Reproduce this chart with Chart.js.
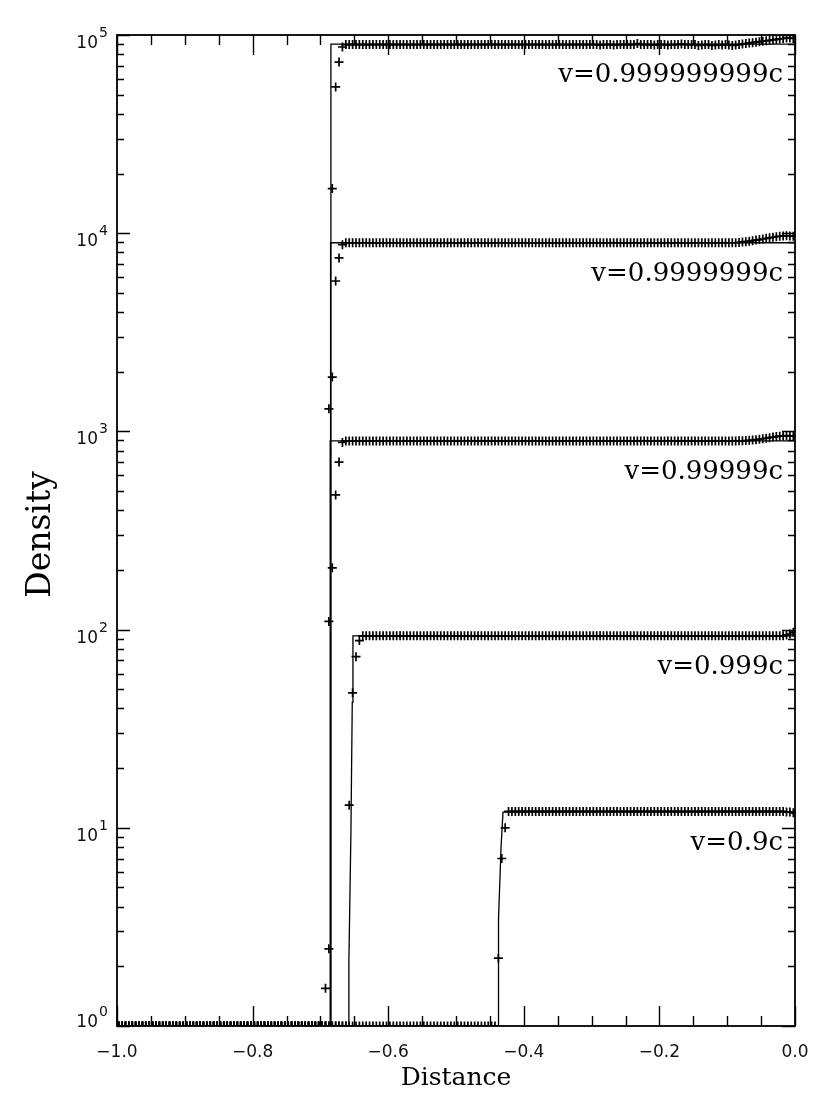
<!DOCTYPE html>
<html lang="en">
<head>
<meta charset="utf-8">
<title>Density vs distance</title>
<script src="https://cdn.jsdelivr.net/npm/chart.js@4.4.0/dist/chart.umd.min.js"></script>
<style>
  html, body { margin: 0; padding: 0; background: #fff; }
</style>
</head>
<body>
<canvas id="myChart" width="830" height="1105"></canvas>
<script>
// cell centres of the numerical grid (Distance)
const cellX = [
  -0.9975,-0.9925,-0.9875,-0.9825,-0.9775,-0.9725,-0.9675,-0.9625,-0.9575,-0.9525,
  -0.9475,-0.9425,-0.9375,-0.9325,-0.9275,-0.9225,-0.9175,-0.9125,-0.9075,-0.9025,
  -0.8975,-0.8925,-0.8875,-0.8825,-0.8775,-0.8725,-0.8675,-0.8625,-0.8575,-0.8525,
  -0.8475,-0.8425,-0.8375,-0.8325,-0.8275,-0.8225,-0.8175,-0.8125,-0.8075,-0.8025,
  -0.7975,-0.7925,-0.7875,-0.7825,-0.7775,-0.7725,-0.7675,-0.7625,-0.7575,-0.7525,
  -0.7475,-0.7425,-0.7375,-0.7325,-0.7275,-0.7225,-0.7175,-0.7125,-0.7075,-0.7025,
  -0.6975,-0.6925,-0.6875,-0.6825,-0.6775,-0.6725,-0.6675,-0.6625,-0.6575,-0.6525,
  -0.6475,-0.6425,-0.6375,-0.6325,-0.6275,-0.6225,-0.6175,-0.6125,-0.6075,-0.6025,
  -0.5975,-0.5925,-0.5875,-0.5825,-0.5775,-0.5725,-0.5675,-0.5625,-0.5575,-0.5525,
  -0.5475,-0.5425,-0.5375,-0.5325,-0.5275,-0.5225,-0.5175,-0.5125,-0.5075,-0.5025,
  -0.4975,-0.4925,-0.4875,-0.4825,-0.4775,-0.4725,-0.4675,-0.4625,-0.4575,-0.4525,
  -0.4475,-0.4425,-0.4375,-0.4325,-0.4275,-0.4225,-0.4175,-0.4125,-0.4075,-0.4025,
  -0.3975,-0.3925,-0.3875,-0.3825,-0.3775,-0.3725,-0.3675,-0.3625,-0.3575,-0.3525,
  -0.3475,-0.3425,-0.3375,-0.3325,-0.3275,-0.3225,-0.3175,-0.3125,-0.3075,-0.3025,
  -0.2975,-0.2925,-0.2875,-0.2825,-0.2775,-0.2725,-0.2675,-0.2625,-0.2575,-0.2525,
  -0.2475,-0.2425,-0.2375,-0.2325,-0.2275,-0.2225,-0.2175,-0.2125,-0.2075,-0.2025,
  -0.1975,-0.1925,-0.1875,-0.1825,-0.1775,-0.1725,-0.1675,-0.1625,-0.1575,-0.1525,
  -0.1475,-0.1425,-0.1375,-0.1325,-0.1275,-0.1225,-0.1175,-0.1125,-0.1075,-0.1025,
  -0.0975,-0.0925,-0.0875,-0.0825,-0.0775,-0.0725,-0.0675,-0.0625,-0.0575,-0.0525,
  -0.0475,-0.0425,-0.0375,-0.0325,-0.0275,-0.0225,-0.0175,-0.0125,-0.0075,-0.0025
];

// numerical densities (+ markers), one value per cell
const dens09 = [
  1,1,1,1,1,1,1,1,1,1, 1,1,1,1,1,1,1,1,1,1, 1,1,1,1,1,1,1,1,1,1, 1,1,1,1,1,1,1,1,1,1,
  1,1,1,1,1,1,1,1,1,1, 1,1,1,1,1,1,1,1,1,1, 1,1,1,1,1,1,1,1,1,1, 1,1,1,1,1,1,1,1,1,1,
  1,1,1,1,1,1,1,1,1,1, 1,1,1,1,1,1,1,1,1,1, 1,1,1,1,1,1,1,1,1,1,
  1,1,2.2,7,10,12.1,12.1,12.1,12.1,12.1,
  12.1,12.1,12.1,12.1,12.1,12.1,12.1,12.1,12.1,12.1,
  12.1,12.1,12.1,12.1,12.1,12.1,12.1,12.1,12.1,12.1,
  12.1,12.1,12.1,12.1,12.1,12.1,12.1,12.1,12.1,12.1,
  12.1,12.1,12.1,12.1,12.1,12.1,12.1,12.1,12.1,12.1,
  12.1,12.1,12.1,12.1,12.1,12.1,12.1,12.1,12.1,12.1,
  12.1,12.1,12.1,12.1,12.1,12.1,12.1,12.1,12.1,12.1,
  12.1,12.1,12.1,12.1,12.1,12.1,12.1,12.1,12.1,12.1,
  12.1,12.1,12.1,12.1,12.1,12.1,12.1,12.0,12.0,11.9
];
const dens0999 = [
  1,1,1,1,1,1,1,1,1,1, 1,1,1,1,1,1,1,1,1,1, 1,1,1,1,1,1,1,1,1,1,
  1,1,1,1,1,1,1,1,1,1, 1,1,1,1,1,1,1,1,1,1, 1,1,1,1,1,1,1,1,1,1,
  1,1,1,1,1,1,1,1,13,48,
  73,88,93,93,93,93,93,93,93,93,
  93,93,93,93,93,93,93,93,93,93, 93,93,93,93,93,93,93,93,93,93,
  93,93,93,93,93,93,93,93,93,93, 93,93,93,93,93,93,93,93,93,93,
  93,93,93,93,93,93,93,93,93,93, 93,93,93,93,93,93,93,93,93,93,
  93,93,93,93,93,93,93,93,93,93, 93,93,93,93,93,93,93,93,93,93,
  93,93,93,93,93,93,93,93,93,93, 93,93,93,93,93,93,93,93,93,93,
  93,93,93,93,93,93,93,93,93,93,
  93,93,93,93,93,93,93,94,95,97
];
const dens99999 = [
  1,1,1,1,1,1,1,1,1,1, 1,1,1,1,1,1,1,1,1,1, 1,1,1,1,1,1,1,1,1,1,
  1,1,1,1,1,1,1,1,1,1, 1,1,1,1,1,1,1,1,1,1, 1,1,1,1,1,1,1,1,1,1,
  1,1,2.45,205,478,700,880,895,895,895,
  895,895,895,895,895,895,895,895,895,895, 895,895,895,895,895,895,895,895,895,895,
  895,895,895,895,895,895,895,895,895,895, 895,895,895,895,895,895,895,895,895,895,
  895,895,895,895,895,895,895,895,895,895, 895,895,895,895,895,895,895,895,895,895,
  895,895,895,895,895,895,895,895,895,895, 895,895,895,895,895,895,895,895,895,895,
  895,895,895,895,895,895,895,895,895,895, 895,895,895,895,895,895,895,895,895,895,
  895,895,895,895,895,895,895,895,895,895,
  895,895,895,896,897,899,901,904,908,913,
  918,924,930,936,942,946,949,951,950,948
];
const dens9999999 = [
  1,1,1,1,1,1,1,1,1,1, 1,1,1,1,1,1,1,1,1,1, 1,1,1,1,1,1,1,1,1,1,
  1,1,1,1,1,1,1,1,1,1, 1,1,1,1,1,1,1,1,1,1, 1,1,1,1,1,1,1,1,1,1,
  1,1.55,110,1880,5740,7500,8750,8950,8950,8950,
  8950,8950,8950,8950,8950,8950,8950,8950,8950,8950, 8950,8950,8950,8950,8950,8950,8950,8950,8950,8950,
  8950,8950,8950,8950,8950,8950,8950,8950,8950,8950, 8950,8950,8950,8950,8950,8950,8950,8950,8950,8950,
  8950,8950,8950,8950,8950,8950,8950,8950,8950,8950, 8950,8950,8950,8950,8950,8950,8950,8950,8950,8950,
  8950,8950,8950,8950,8950,8950,8950,8950,8950,8950, 8950,8950,8950,8950,8950,8950,8950,8950,8950,8950,
  8950,8950,8950,8950,8950,8950,8950,8950,8950,8950, 8950,8950,8950,8950,8950,8950,8950,8950,8950,8950,
  8950,8950,8950,8950,8950,8950,8950,8950,8950,8950,
  8950,8950,8950,8980,9020,9060,9110,9170,9230,9290,
  9350,9420,9480,9540,9600,9650,9690,9700,9680,9650
];
const dens999999999 = [
  1,1,1,1,1,1,1,1,1,1, 1,1,1,1,1,1,1,1,1,1, 1,1,1,1,1,1,1,1,1,1,
  1,1,1,1,1,1,1,1,1,1, 1,1,1,1,1,1,1,1,1,1, 1,1,1,1,1,1,1,1,1,1,
  1,1,1300,16800,54700,73000,87000,89500,89500,89500,
  89500,89500,89500,89500,89500,89500,89500,89500,89500,89500,
  89500,89500,89500,89500,89500,89500,89500,89500,89500,89500,
  89500,89500,89500,89500,89500,89500,89500,89500,89500,89500,
  89500,89500,89500,89500,89500,89500,89500,89500,89500,89500,
  89500,89500,89500,89500,89500,89500,89500,89500,89500,89500,
  89500,89500,89500,89500,89500,89500,89500,89500,89500,89500,
  89500,89500,89500,89500,89500,89500,89500,89500,89500,89500,
  89500,89500,89000,89500,89500,89500,89000,89500,89500,89500,
  89500,89500,89500,90500,89500,89500,89500,89500,89000,89500,
  89500,89500,89000,89500,89500,89500,90000,89500,89500,89500,
  89500,88500,89000,89500,89500,88500,89000,89500,89000,89500,
  89000,88500,89000,89500,90000,90500,91000,91500,92000,92500,
  93000,93500,94000,94500,95000,95500,96000,96500,96500,96000
];

// exact solutions (solid lines)
const exactX09 = [-1, -0.438, -0.438, -0.4366, -0.4336, -0.4307, 0];
const exactY09 = [1, 1, 1.48, 3.47, 7.91, 12, 12];
const exactX0999 = [-1, -0.658, -0.658, -0.655, -0.653, -0.652, 0];
const exactY0999 = [1, 1, 2.1, 9.4, 43, 93, 93];
const exactX99999 = [-1, -0.6855, -0.6855, 0];
const exactY99999 = [1, 1, 895, 895];
const exactX9999999 = [-1, -0.685, -0.685, 0];
const exactY9999999 = [1, 1, 8950, 8950];
const exactX999999999 = [-1, -0.6845, -0.6845, 0];
const exactY999999999 = [1, 1, 90000, 90000];

const seriesLabels = ['v=0.9c', 'v=0.999c', 'v=0.99999c', 'v=0.9999999c', 'v=0.999999999c'];

const xTickValues = [-1.0, -0.8, -0.6, -0.4, -0.2, 0.0];
const xTickLabels = ['\u22121.0', '\u22120.8', '\u22120.6', '\u22120.4', '\u22120.2', '0.0'];
const xMinorTicks = [-0.95, -0.9, -0.85, -0.75, -0.7, -0.65, -0.55, -0.5, -0.45, -0.35, -0.3, -0.25, -0.15, -0.1, -0.05];
const yTickExponents = [0, 1, 2, 3, 4, 5];

const series = [
  { dens: dens09, ex: exactX09, ey: exactY09 },
  { dens: dens0999, ex: exactX0999, ey: exactY0999 },
  { dens: dens99999, ex: exactX99999, ey: exactY99999 },
  { dens: dens9999999, ex: exactX9999999, ey: exactY9999999 },
  { dens: dens999999999, ex: exactX999999999, ey: exactY999999999 }
];

const datasets = [];
series.forEach((s, i) => {
  datasets.push({
    label: seriesLabels[i] + ' exact',
    data: s.ex.map((v, k) => ({ x: v, y: s.ey[k] })),
    borderColor: '#000',
    borderWidth: 1.3,
    pointRadius: 0,
    tension: 0,
    clip: 0
  });
  datasets.push({
    label: seriesLabels[i],
    data: cellX.map((v, k) => ({ x: v, y: s.dens[k] })),
    showLine: false,
    pointStyle: 'cross',
    pointRadius: 4.5,
    pointBorderWidth: 1.7,
    borderColor: '#000',
    backgroundColor: '#000',
    clip: 0
  });
});

// box, inward ticks, tick labels, titles and curve labels
const frame = {
  id: 'frame',
  afterDraw(chart) {
    const { ctx, chartArea: a } = chart;
    const x = chart.scales.x, y = chart.scales.y;
    ctx.save();
    ctx.strokeStyle = '#000';
    ctx.lineWidth = 1.4;
    ctx.beginPath();
    const xTick = (v, len) => {
      const px = Math.round(x.getPixelForValue(v)) + 0.5;
      ctx.moveTo(px, a.bottom); ctx.lineTo(px, a.bottom - len);
      ctx.moveTo(px, a.top); ctx.lineTo(px, a.top + len);
    };
    const yTick = (v, len) => {
      const py = Math.round(y.getPixelForValue(v)) + 0.5;
      ctx.moveTo(a.left, py); ctx.lineTo(a.left + len, py);
      ctx.moveTo(a.right, py); ctx.lineTo(a.right - len, py);
    };
    xTickValues.forEach(v => xTick(v, 20));
    xMinorTicks.forEach(v => xTick(v, 10));
    yTickExponents.forEach(n => {
      yTick(Math.pow(10, n), 13);
      if (n < 5) for (let m = 2; m <= 9; m++) yTick(m * Math.pow(10, n), 7);
    });
    ctx.stroke();
    ctx.lineWidth = 1.8;
    ctx.strokeRect(a.left, a.top, a.right - a.left, a.bottom - a.top);

    ctx.fillStyle = '#111';
    // x tick labels
    ctx.font = '17px "DejaVu Sans"';
    ctx.textAlign = 'center';
    ctx.textBaseline = 'alphabetic';
    xTickValues.forEach((v, i) => ctx.fillText(xTickLabels[i], x.getPixelForValue(v), a.bottom + 31));
    // y tick labels 10^n
    yTickExponents.forEach(n => {
      const py = y.getPixelForValue(Math.pow(10, n));
      const base = py + (n === 0 ? 1 : 13);
      ctx.font = '17px "DejaVu Sans"';
      ctx.textAlign = 'right';
      ctx.fillText('10', a.left - 19, base);
      ctx.font = '14px "DejaVu Sans"';
      ctx.textAlign = 'left';
      ctx.fillText(String(n), a.left - 18, base - 11);
    });

    // axis titles
    ctx.fillStyle = '#000';
    ctx.font = '25px "DejaVu Serif"';
    ctx.textAlign = 'center';
    ctx.fillText('Distance', (a.left + a.right) / 2, a.bottom + 59);
    ctx.save();
    ctx.translate(50, (a.top + a.bottom) / 2 + 4);
    ctx.rotate(-Math.PI / 2);
    ctx.font = '33px "DejaVu Serif"';
    ctx.fillText('Density', 0, 0);
    ctx.restore();

    // curve labels, under the right end of each plateau
    ctx.font = '26px "DejaVu Serif"';
    ctx.textAlign = 'right';
    series.forEach((s, i) => {
      const level = s.ey[s.ey.length - 1];
      ctx.fillText(seriesLabels[i], x.getPixelForValue(0) - 12, y.getPixelForValue(level) + 38);
    });
    ctx.restore();
  }
};

const ctx = document.getElementById('myChart').getContext('2d');
const myChart = new Chart(ctx, {
  type: 'line',
  data: { datasets: datasets },
  options: {
    responsive: false,
    devicePixelRatio: 1,
    animation: false,
    layout: { padding: { top: 35, right: 35, left: 0, bottom: 0 } },
    plugins: { legend: { display: false }, tooltip: { enabled: false } },
    scales: {
      x: {
        type: 'linear', min: -1, max: 0,
        ticks: { display: false },
        grid: { display: false },
        border: { display: false },
        afterFit: s => { s.height = 79; }
      },
      y: {
        type: 'logarithmic', min: 1, max: 100000,
        ticks: { display: false },
        grid: { display: false },
        border: { display: false },
        afterFit: s => { s.width = 117; }
      }
    }
  },
  plugins: [frame]
});
</script>
</body>
</html>
